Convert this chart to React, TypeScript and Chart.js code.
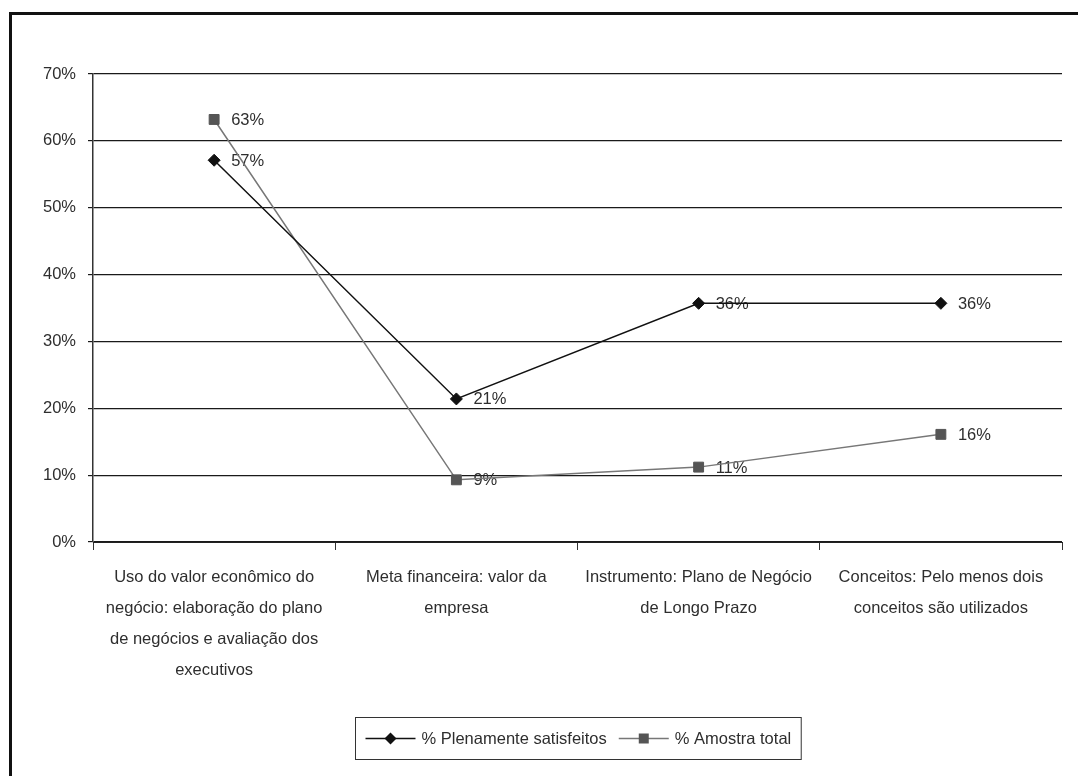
import React, { useEffect, useRef } from "react";
import { Chart, registerables } from "chart.js";

Chart.register(...registerables);

const categories: string[][] = [
  ["Uso do valor econômico do", "negócio: elaboração do plano", "de negócios e avaliação dos", "executivos"],
  ["Meta financeira: valor da", "empresa"],
  ["Instrumento: Plano de Negócio", "de Longo Prazo"],
  ["Conceitos: Pelo menos dois", "conceitos são utilizados"],
];
const plenamenteSatisfeitos: number[] = [57.1, 21.4, 35.7, 35.7];
const amostraTotal: number[] = [63.2, 9.3, 11.2, 16.1];
const seriesNames: string[] = ["% Plenamente satisfeitos", "% Amostra total"];
const yTicks: number[] = [0, 10, 20, 30, 40, 50, 60, 70];

const FONT = "'Liberation Sans', Arial, sans-serif";
const FONT_SIZE = 16.5;
const TEXT = "#2e2e2e";

const labelPlugin = {
  id: "pointLabels",
  beforeDatasetsDraw(chart: any) {
    const ctx = chart.ctx;
    ctx.save();
    ctx.font = `${FONT_SIZE}px ${FONT}`;
    ctx.fillStyle = TEXT;
    ctx.textAlign = "left";
    ctx.textBaseline = "middle";
    chart.data.datasets.forEach((ds: any, i: number) => {
      const meta = chart.getDatasetMeta(i);
      meta.data.forEach((pt: any, j: number) => {
        ctx.fillText(`${Math.round(ds.data[j])}%`, pt.x + 17, pt.y + 1);
      });
    });
    ctx.restore();
  },
};

const legendPlugin = {
  id: "boxLegend",
  afterDraw(chart: any) {
    const ctx = chart.ctx;
    const area = chart.chartArea;
    ctx.save();
    ctx.font = `${FONT_SIZE}px ${FONT}`;
    const lineLen = 50;
    const gap = 6;
    const itemGap = 12;
    const pad = 10;
    const widths = chart.data.datasets.map((ds: any) => ctx.measureText(ds.label).width);
    const total =
      widths.reduce((a: number, b: number) => a + b, 0) +
      widths.length * (lineLen + gap) +
      (widths.length - 1) * itemGap;
    const boxW = total + pad * 2;
    const cx = (area.left + area.right) / 2;
    const bx = Math.round(cx - boxW / 2) + 0.5;
    const by = 717.5;
    const bh = 42;
    ctx.strokeStyle = "#333";
    ctx.lineWidth = 1;
    ctx.strokeRect(bx, by, boxW, bh);
    const cy = by + bh / 2;
    let x = bx + pad;
    chart.data.datasets.forEach((ds: any, i: number) => {
      ctx.strokeStyle = ds.borderColor;
      ctx.lineWidth = 1.5;
      ctx.beginPath();
      ctx.moveTo(x, cy);
      ctx.lineTo(x + lineLen, cy);
      ctx.stroke();
      const mx = x + lineLen / 2;
      ctx.fillStyle = ds.pointBackgroundColor;
      ctx.beginPath();
      if (ds.pointStyle === "rectRot") {
        const r = 6;
        ctx.moveTo(mx - r, cy);
        ctx.lineTo(mx, cy - r);
        ctx.lineTo(mx + r, cy);
        ctx.lineTo(mx, cy + r);
        ctx.closePath();
      } else {
        ctx.rect(mx - 5, cy - 5, 10, 10);
      }
      ctx.fill();
      x += lineLen + gap;
      ctx.fillStyle = TEXT;
      ctx.textAlign = "left";
      ctx.textBaseline = "middle";
      ctx.fillText(ds.label, x, cy + 1);
      x += widths[i] + itemGap;
    });
    ctx.restore();
  },
};

export default function App() {
  const canvasRef = useRef<HTMLCanvasElement | null>(null);

  useEffect(() => {
    if (!canvasRef.current) return;
    const chart = new Chart(canvasRef.current, {
      type: "line",
      data: {
        labels: categories,
        datasets: [
          {
            label: seriesNames[0],
            data: plenamenteSatisfeitos,
            borderColor: "#111111",
            borderWidth: 1.5,
            pointStyle: "rectRot",
            pointRadius: 6,
            pointHoverRadius: 6,
            pointBackgroundColor: "#111111",
            pointBorderColor: "#111111",
            pointBorderWidth: 1,
            tension: 0,
          },
          {
            label: seriesNames[1],
            data: amostraTotal,
            borderColor: "#777777",
            borderWidth: 1.5,
            pointStyle: "rect",
            pointRadius: 7,
            pointHoverRadius: 7,
            pointBackgroundColor: "#555555",
            pointBorderColor: "#555555",
            pointBorderWidth: 1,
            tension: 0,
          },
        ],
      },
      options: {
        animation: false,
        responsive: false,
        devicePixelRatio: 1,
        layout: { padding: { top: 74, right: 16, left: 0, bottom: 0 } },
        plugins: {
          legend: { display: false },
          tooltip: { enabled: false },
        },
        scales: {
          x: {
            type: "category",
            offset: true,
            afterFit: (s: any) => {
              s.height = 234;
            },
            grid: {
              offset: true,
              drawOnChartArea: false,
              drawTicks: true,
              tickLength: 8,
              color: "#333",
              lineWidth: 1,
            },
            border: { display: true, color: "#222", width: 1 },
            ticks: {
              maxRotation: 0,
              minRotation: 0,
              autoSkip: false,
              padding: 12,
              color: TEXT,
              font: { family: FONT, size: FONT_SIZE, lineHeight: "31px" as any },
            },
          },
          y: {
            min: 0,
            max: 70,
            afterFit: (s: any) => {
              s.width = 93;
            },
            afterBuildTicks: (s: any) => {
              s.ticks = yTicks.map((v) => ({ value: v }));
            },
            grid: {
              color: "#1a1a1a",
              lineWidth: 1.2,
              tickLength: 5,
            },
            border: { display: true, color: "#333", width: 1.5 },
            ticks: {
              padding: 12,
              color: TEXT,
              font: { family: FONT, size: FONT_SIZE },
              callback: (v: any) => `${v}%`,
            },
          },
        },
      },
      plugins: [labelPlugin, legendPlugin],
    });
    return () => chart.destroy();
  }, []);

  return (
    <div
      style={{
        position: "fixed",
        left: 0,
        top: 0,
        width: 1078,
        height: 776,
        overflow: "hidden",
        background: "#fff",
      }}
    >
      <div
        style={{
          position: "absolute",
          left: 9,
          top: 12,
          width: 2000,
          height: 2000,
          borderLeft: "3px solid #111",
          borderTop: "3px solid #111",
        }}
      />
      <canvas
        ref={canvasRef}
        width={1078}
        height={776}
        style={{ position: "absolute", left: 0, top: 0, width: 1078, height: 776 }}
      />
    </div>
  );
}
